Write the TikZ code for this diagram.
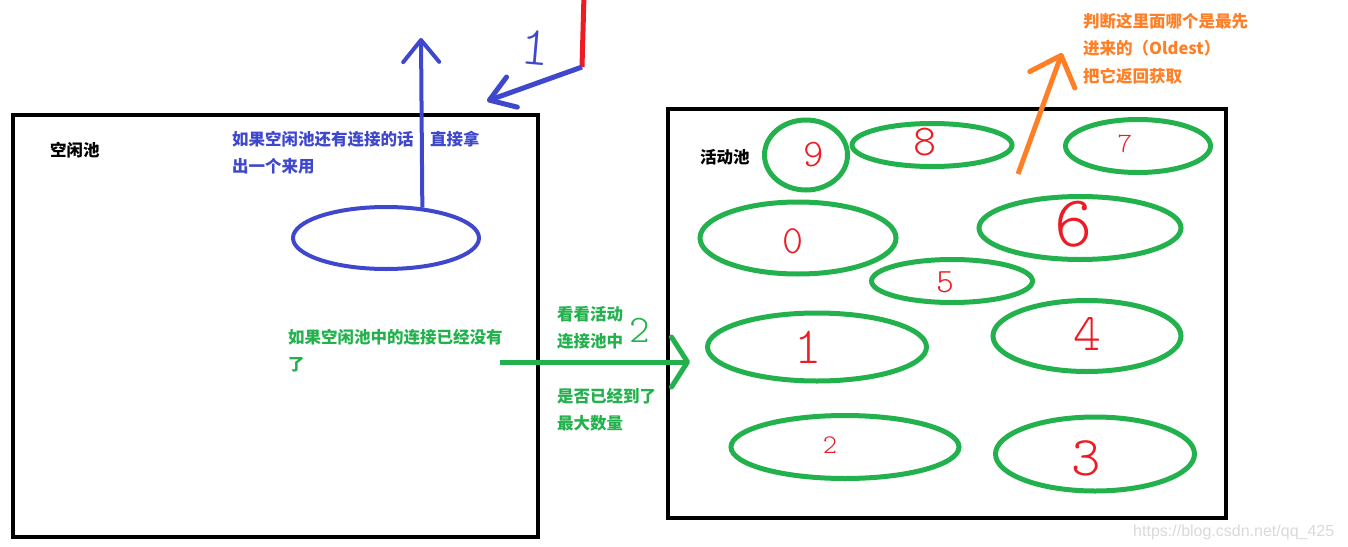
\documentclass[tikz,border=0pt]{standalone}
\usepackage{fontspec}
\newfontfamily\cjk{Noto Sans CJK SC}
\newfontfamily\hand{Latin Modern Mono Light}
\newfontfamily\markfont{Liberation Sans}
\usetikzlibrary{shapes.geometric,arrows.meta}
\definecolor{paintblue}{RGB}{63,72,204}
\definecolor{paintgreen}{RGB}{34,177,76}
\definecolor{paintorange}{RGB}{255,127,39}
\definecolor{paintred}{RGB}{237,28,36}
\tikzset{
  pool/.style={draw=black, line width=4pt, inner sep=0pt, anchor=north west},
  conn/.style={ellipse, draw=paintgreen, line width=5pt, inner sep=0pt},
  note/.style={font=\cjk\bfseries\fontsize{16.5}{27.5}\selectfont, anchor=west, inner sep=0pt, align=left},
  digit/.style={text=paintred, inner sep=0pt},
}
\begin{document}
\begin{tikzpicture}[x=1pt, y=-1pt]
            \useasboundingbox (0, 0) rectangle (1348, 546);
            %\draw[lightgray] (0, 0) grid[step=50] (1348, 546);
            % idle pool
            \node[pool, minimum width=525.5, minimum height=422.5] (idle) at (10.5, 112.5) {};
            \node[note, text=black] (idlename) at (50, 150) {空闲池};
            \node[ellipse, draw=paintblue, line width=4pt, inner sep=0pt,
                  minimum width=186, minimum height=62] (freeconn) at (386, 238) {};
            \coordinate (takeout) at (421, 38);
            \draw[paintblue, line width=4pt, -{Straight Barb[length=22pt, width=36pt, round]}] (freeconn.40) -- (takeout);
            \node[note, text=paintblue] (takenote) at (232, 152.5) {如果空闲池还有连接的话\hspace{1em}直接拿\\出一个来用};
            % request
            \coordinate (reqtop) at (584, -5);
            \coordinate (reqbot) at (582, 67);
            \coordinate (reqin) at (487, 101);
            \draw[paintred, line width=5pt] (reqtop) -- (reqbot);
            \draw[paintblue, line width=5pt, -{Straight Barb[length=24pt, width=32pt, round]}] (reqbot) -- (reqin);
            \node[text=paintblue, inner sep=0pt, rotate=-5, font=\hand\fontsize{55}{55}\selectfont] (stepone) at (535, 48) {1};
            % active pool
            \node[pool, minimum width=558, minimum height=408.5] (active) at (666, 107) {};
            \node[note, text=black] (activename) at (700, 157) {活动池};
            \node[conn, minimum width=83, minimum height=70] (c9) at (806, 155) {};
            \node[conn, minimum width=160, minimum height=43] (c8) at (932, 145) {};
            \node[conn, minimum width=145, minimum height=53] (c7) at (1138, 146) {};
            \node[conn, minimum width=196, minimum height=72] (c0) at (798, 238) {};
            \node[conn, minimum width=202, minimum height=63] (c6) at (1080, 228) {};
            \node[conn, minimum width=161, minimum height=43] (c5) at (952, 281) {};
            \node[conn, minimum width=219, minimum height=68] (c1) at (817, 347) {};
            \node[conn, minimum width=188, minimum height=71] (c4) at (1087, 336) {};
            \node[conn, minimum width=228, minimum height=63] (c2) at (845, 447) {};
            \node[conn, minimum width=199, minimum height=74] (c3) at (1095, 454) {};
            \node[digit, font=\hand\fontsize{39}{39}\selectfont] (d9) at (814, 155) {9};
            \node[digit, font=\hand\fontsize{44}{44}\selectfont] (d8) at (925, 142) {8};
            \node[digit, font=\hand\fontsize{28}{28}\selectfont] (d7) at (1125, 144) {7};
            \node[digit, font=\hand\fontsize{40}{40}\selectfont] (d0) at (793, 241) {0};
            \node[digit, font=\hand\fontsize{73}{73}\selectfont] (d6) at (1074, 224) {6};
            \node[digit, font=\hand\fontsize{34}{34}\selectfont] (d5) at (945, 282) {5};
            \node[digit, font=\hand\fontsize{52}{52}\selectfont] (d1) at (808, 347) {1};
            \node[digit, font=\hand\fontsize{53}{53}\selectfont] (d4) at (1087, 334) {4};
            \node[digit, font=\hand\fontsize{27}{27}\selectfont] (d2) at (830, 445) {2};
            \node[digit, font=\hand\fontsize{56}{56}\selectfont] (d3) at (1086, 458) {3};
            % oldest one is handed back
            \coordinate (pickfrom) at (1018, 174);
            \coordinate (pickto) at (1062, 53);
            \draw[paintorange, line width=5pt, -{Straight Barb[length=26pt, width=48pt, round]}] (pickfrom) -- (pickto);
            \node[note, text=paintorange] (picknote) at (1083, 48.5) {判断这里面哪个是最先\\进来的（Oldest）\\把它返回获取};
            % no idle connection left
            \coordinate (askfrom) at (500, 362);
            \coordinate (askto) at (690, 362);
            \draw[paintgreen, line width=5pt, -{Straight Barb[length=16pt, width=50pt, round]}] (askfrom) -- (askto);
            \node[note, text=paintgreen] (emptynote) at (288, 350.5) {如果空闲池中的连接已经没有\\了};
            \node[note, text=paintgreen] (looknote) at (557, 328) {看看活动\\连接池中};
            \node[note, text=paintgreen] (maxnote) at (557, 409.5) {是否已经到了\\最大数量};
            \node[text=paintgreen, inner sep=0pt, font=\hand\fontsize{39}{39}\selectfont] (steptwo) at (640, 330) {2};
            \node[anchor=west, inner sep=0pt, text=gray!30, font=\markfont\fontsize{16}{16}\selectfont] (mark) at (1133, 532) {https://blog.csdn.net/qq\_425};
        \end{tikzpicture}
\end{document}
